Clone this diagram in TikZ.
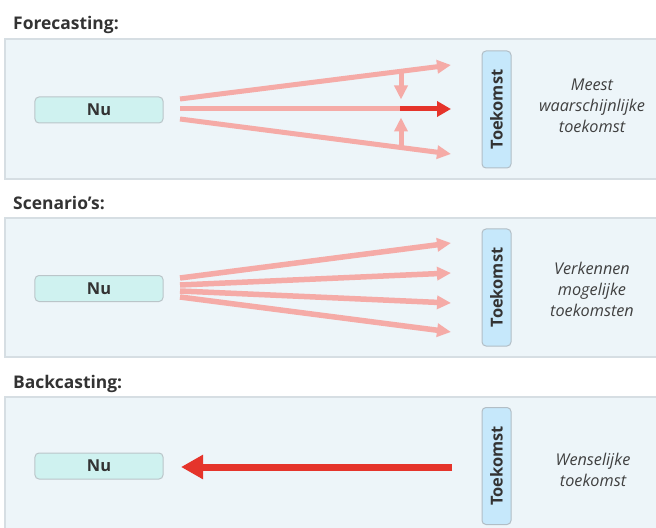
\documentclass[tikz,border=0pt]{standalone}
\usepackage{fontspec}
\setmainfont{Open Sans}
\usetikzlibrary{arrows.meta}
\definecolor{panelfill}{HTML}{EDF5F9}
\definecolor{panelline}{HTML}{D6DEE3}
\definecolor{nufill}{HTML}{CFF2F0}
\definecolor{nuline}{HTML}{BAC5C9}
\definecolor{tkfill}{HTML}{C6E8FB}
\definecolor{tkline}{HTML}{B2BEC6}
\definecolor{softred}{HTML}{F5ABA7}
\definecolor{strongred}{HTML}{E5342B}
\definecolor{ink}{HTML}{333333}
\definecolor{noteink}{HTML}{404040}
\begin{document}
\begin{tikzpicture}[x=1bp,y=-1bp,
  title/.style={anchor=base west,inner sep=0pt,text=ink,font=\fontsize{17.5}{20}\selectfont\bfseries},
  panel/.style={draw=panelline,fill=panelfill,line width=1.2bp},
  nubox/.style={draw=nuline,fill=nufill,line width=1bp,rounded corners=4bp,
    minimum width=128bp,minimum height=26bp,inner sep=0pt,text=ink,
    font=\fontsize{16.5}{18}\selectfont\bfseries},
  tkbox/.style={draw=tkline,fill=tkfill,line width=1bp,rounded corners=4bp,rotate=90,
    minimum width=117bp,minimum height=29bp,inner sep=0pt,text=ink,
    font=\fontsize{16.5}{18}\selectfont\bfseries},
  note/.style={align=center,inner sep=0pt,text=noteink,
    font=\fontsize{16.3}{21}\selectfont\itshape},
  soft/.style={draw=softred,line width=5bp,-{Triangle[length=14bp,width=13bp]}},
  softline/.style={draw=softred,line width=5bp},
  strong/.style={draw=strongred,line width=5bp,-{Triangle[length=14bp,width=15bp]}},
  back/.style={draw=strongred,line width=7bp,-{Triangle[length=22bp,width=23bp]}},
]
\useasboundingbox (0,0) rectangle (656,528);

% ---------- Forecasting ----------
\node[title] (t1) at (13,30) {Forecasting:};
\draw[panel] (5,39) rectangle (662,179);
\node[nubox] (nu1) at (99,110) {Nu};
\node[tkbox] (tk1) at (496.5,109.5) {Toekomst};
\node[note] (n1) at (592,106) {Meest\\waarschijnlijke\\toekomst};
\coordinate (f1s) at (180,99);  \coordinate (f1e) at (451,65);
\coordinate (f2s) at (180,109); \coordinate (f2m) at (400,109); \coordinate (f2e) at (451,109);
\coordinate (f3s) at (180,119); \coordinate (f3e) at (451,154);
\coordinate (d1s) at (401,71.5); \coordinate (d1e) at (401,99.5);
\coordinate (d2s) at (401,147.5); \coordinate (d2e) at (401,117.5);
\draw[soft] (f1s) -- (f1e);
\draw[soft] (f3s) -- (f3e);
\draw[softline] (f2s) -- (f2m);
\draw[strong] (f2m) -- (f2e);
\draw[soft] (d1s) -- (d1e);
\draw[soft] (d2s) -- (d2e);

% ---------- Scenario's ----------
\node[title] (t2) at (13,210) {Scenario’s:};
\draw[panel] (5,218) rectangle (662,357);
\node[nubox] (nu2) at (99,288.5) {Nu};
\node[tkbox] (tk2) at (496.5,287.5) {Toekomst};
\node[note] (n2) at (592,289.5) {Verkennen\\mogelijke\\toekomsten};
\coordinate (s1s) at (180,278); \coordinate (s1e) at (451,243);
\coordinate (s2s) at (180,285); \coordinate (s2e) at (451,273);
\coordinate (s3s) at (180,291); \coordinate (s3e) at (451,303);
\coordinate (s4s) at (180,297); \coordinate (s4e) at (451,332);
\foreach \i in {1,...,4} \draw[soft,line width=5.5bp] (s\i s) -- (s\i e);

% ---------- Backcasting ----------
\node[title] (t3) at (13,388) {Backcasting:};
\draw[panel] (5,397) rectangle (662,534);
\node[nubox] (nu3) at (99,466) {Nu};
\node[tkbox] (tk3) at (496.5,466) {Toekomst};
\node[note] (n3) at (593,470) {Wenselijke\\toekomst};
\coordinate (b1s) at (452,467); \coordinate (b1e) at (181,467);
\draw[back] (b1s) -- (b1e);
\end{tikzpicture}
\end{document}
